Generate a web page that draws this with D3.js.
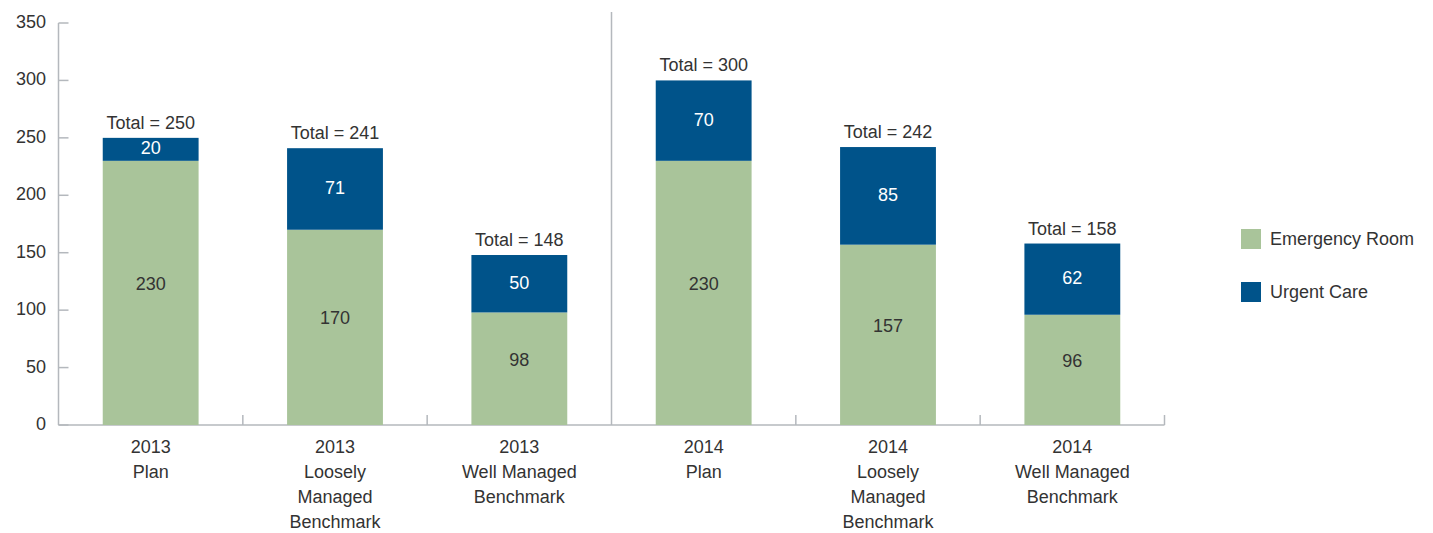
<!DOCTYPE html>
<html lang="en">
  <head>
    <meta charset="utf-8">
    <script src="https://d3js.org/d3.v7.min.js"></script>
    <style>
      body { margin: 0; background: #fff; }
      text { font-family: "Liberation Sans", Arial, sans-serif; fill: #333; }
      .axis line { stroke: #b4b8bd; stroke-width: 1.5px; }
    </style>
    <title>ER vs Urgent Care</title>
  </head>
  <body>
    <script>
    // chart data
    var categories = [
      ["2013", "Plan"],
      ["2013", "Loosely", "Managed", "Benchmark"],
      ["2013", "Well Managed", "Benchmark"],
      ["2014", "Plan"],
      ["2014", "Loosely", "Managed", "Benchmark"],
      ["2014", "Well Managed", "Benchmark"]
    ];
    var emergencyRoom = [230, 170, 98, 230, 157, 96];
    var urgentCare = [20, 71, 50, 70, 85, 62];
    var totals = [250, 241, 148, 300, 242, 158];
    var yTicks = [0, 50, 100, 150, 200, 250, 300, 350];
    var seriesNames = ["Emergency Room", "Urgent Care"];
    var colors = ["#a9c49a", "#00538a"];

    var w = 1433, h = 533;
    var svg = d3.select("body").append("svg")
      .attr("width", w)
      .attr("height", h);

    var mLeft = 58.5, mRight = 1164.5, mTop = 23, mBottom = 425;
    var fs = "18px";

    var x = d3.scaleBand()
      .domain(d3.range(categories.length))
      .range([mLeft, mRight])
      .paddingInner(0.48)
      .paddingOuter(0.24);

    var y = d3.scaleLinear().domain([0, 350]).range([mBottom, mTop]);

    // y axis (ticks point inward)
    var yAxis = svg.append("g").attr("class", "axis")
      .attr("transform", "translate(" + mLeft + ",0)");
    yAxis.append("line")
      .attr("x1", 0).attr("x2", 0)
      .attr("y1", y(350)).attr("y2", y(0));
    yAxis.selectAll(".tick").data(yTicks).enter().append("line")
      .attr("x1", 0).attr("x2", 10)
      .attr("y1", function(d) { return y(d); })
      .attr("y2", function(d) { return y(d); });
    svg.selectAll(".ylab").data(yTicks).enter().append("text")
      .attr("class", "ylab")
      .attr("x", 46)
      .attr("y", function(d) { return y(d) + 5; })
      .attr("text-anchor", "end")
      .style("font-size", fs)
      .text(function(d) { return d; });

    // x axis with boundary ticks
    var step = x.step();
    var xAxis = svg.append("g").attr("class", "axis");
    xAxis.append("line")
      .attr("x1", mLeft).attr("x2", mRight)
      .attr("y1", mBottom).attr("y2", mBottom);
    xAxis.selectAll(".xt").data(d3.range(1, categories.length + 1)).enter().append("line")
      .attr("x1", function(i) { return mLeft + i * step; })
      .attr("x2", function(i) { return mLeft + i * step; })
      .attr("y1", mBottom)
      .attr("y2", function(i) { return i === 3 ? 12 : mBottom - 10; });

    // stacked bars
    var bars = svg.append("g");
    bars.selectAll(".er").data(emergencyRoom).enter().append("rect")
      .attr("x", function(d, i) { return x(i); })
      .attr("width", x.bandwidth())
      .attr("y", function(d) { return y(d); })
      .attr("height", function(d) { return y(0) - y(d); })
      .attr("fill", colors[0]);
    bars.selectAll(".uc").data(urgentCare).enter().append("rect")
      .attr("x", function(d, i) { return x(i); })
      .attr("width", x.bandwidth())
      .attr("y", function(d, i) { return y(emergencyRoom[i] + d); })
      .attr("height", function(d, i) { return y(emergencyRoom[i]) - y(emergencyRoom[i] + d); })
      .attr("fill", colors[1]);

    // value labels
    svg.selectAll(".erlab").data(emergencyRoom).enter().append("text")
      .attr("x", function(d, i) { return x(i) + x.bandwidth() / 2; })
      .attr("y", function(d) { return y(d / 2) - 3; })
      .attr("text-anchor", "middle")
      .style("font-size", fs)
      .text(function(d) { return d; });
    svg.selectAll(".uclab").data(urgentCare).enter().append("text")
      .attr("x", function(d, i) { return x(i) + x.bandwidth() / 2; })
      .attr("y", function(d, i) { return y(emergencyRoom[i] + d / 2) + 5; })
      .attr("text-anchor", "middle")
      .style("font-size", fs)
      .style("fill", "#fff")
      .text(function(d) { return d; });
    svg.selectAll(".tot").data(totals).enter().append("text")
      .attr("x", function(d, i) { return x(i) + x.bandwidth() / 2; })
      .attr("y", function(d) { return y(d) - 9; })
      .attr("text-anchor", "middle")
      .style("font-size", fs)
      .text(function(d) { return "Total = " + d; });

    // category labels
    var cat = svg.selectAll(".cat").data(categories).enter().append("text")
      .attr("text-anchor", "middle")
      .style("font-size", fs);
    cat.selectAll("tspan").data(function(d, i) {
        return d.map(function(s) { return { s: s, i: i }; });
      }).enter().append("tspan")
      .attr("x", function(d) { return x(d.i) + x.bandwidth() / 2; })
      .attr("y", function(d, j) { return 453 + j * 25; })
      .text(function(d) { return d.s; });

    // legend
    var legend = svg.selectAll(".leg").data(seriesNames).enter().append("g")
      .attr("transform", function(d, i) { return "translate(1241," + (229 + i * 53) + ")"; });
    legend.append("rect")
      .attr("width", 20).attr("height", 20)
      .attr("fill", function(d, i) { return colors[i]; });
    legend.append("text")
      .attr("x", 29).attr("y", 16)
      .style("font-size", fs)
      .text(function(d) { return d; });
    </script>
  </body>
</html>
